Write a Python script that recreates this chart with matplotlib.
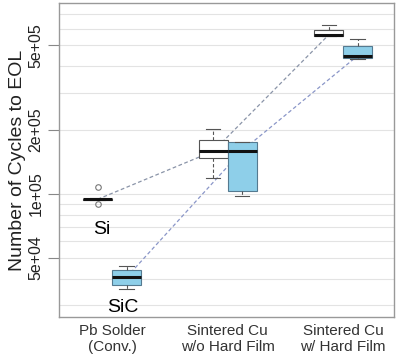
import matplotlib
matplotlib.use("Agg")
import matplotlib.pyplot as plt
from matplotlib.ticker import FixedLocator, NullFormatter, NullLocator

plt.rcParams['font.family'] = ['Liberation Sans', 'DejaVu Sans']

categories = ["Pb Solder\n(Conv.)", "Sintered Cu\nw/o Hard Film", "Sintered Cu\nw/ Hard Film"]
yticks = [5e4, 1e5, 2e5, 5e5]
ytick_labels = ["5e+04", "1e+05", "2e+05", "5e+05"]
grid_vals = [3e4, 4e4, 5e4, 6e4, 7e4, 8e4, 9e4, 1e5, 2e5, 3e5, 4e5, 5e5, 6e5, 7e5]

# box stats per category: (whislo, q1, med, q3, whishi)
si_stats = [
    (0.935e5, 0.938e5, 0.945e5, 0.952e5, 0.955e5),
    (1.185e5, 1.48e5, 1.59e5, 1.79e5, 2.02e5),
    (5.55e5, 5.55e5, 5.61e5, 5.91e5, 6.26e5),
]
si_fliers = [[1.08e5, 0.894e5], [], []]
sic_stats = [
    (3.56e4, 3.73e4, 4.06e4, 4.39e4, 4.57e4),
    (0.975e5, 1.03e5, 1.60e5, 1.75e5, 1.75e5),
    (4.32e5, 4.38e5, 4.47e5, 4.98e5, 5.34e5),
]
sic_fliers = [[], [], []]
series_labels = ["Si", "SiC"]

fig = plt.figure(figsize=(4.0, 3.55), dpi=100)
ax = fig.add_axes([59/400, 1 - 317/355, (394-59)/400, (317-3)/355])
ax.set_yscale('log')

offset = 0.125
width = 0.25
pos = [1, 2, 3]

def mk(stats, fliers):
    out = []
    for s, f in zip(stats, fliers):
        out.append(dict(whislo=s[0], q1=s[1], med=s[2], q3=s[3], whishi=s[4], fliers=f))
    return out

common = dict(widths=width, showfliers=True, patch_artist=True,
              whiskerprops=dict(color='#555555', linestyle=(0, (3, 2)), linewidth=0.8),
              capprops=dict(color='#555555', linewidth=0.8),
              medianprops=dict(color='#111111', linewidth=2.2),
              flierprops=dict(marker='o', markerfacecolor='none', markeredgecolor='#777777',
                              markersize=4, markeredgewidth=0.8))

ax.bxp(mk(si_stats, si_fliers), positions=[p - offset for p in pos],
       boxprops=dict(facecolor='white', edgecolor='#555555', linewidth=0.8), **common)
ax.bxp(mk(sic_stats, sic_fliers), positions=[p + offset for p in pos],
       boxprops=dict(facecolor='#8ecfe9', edgecolor='#557a90', linewidth=0.8), **common)

# connecting dashed lines through medians
ax.plot([p - offset for p in pos], [s[2] for s in si_stats], linestyle=(0, (3, 2)),
        color='#8a94a8', linewidth=0.9, zorder=1)
ax.plot([p + offset for p in pos], [s[2] for s in sic_stats], linestyle=(0, (3, 2)),
        color='#8a96c8', linewidth=0.9, zorder=1)

ax.text(1 - 0.09, 6.8e4, series_labels[0], fontsize=14, ha='center', va='center')
ax.text(1 + 0.09, 2.94e4, series_labels[1], fontsize=14, ha='center', va='center')

ax.set_xlim(0.54, 3.44)
ax.set_ylim(2.64e4, 7.92e5)

for g in grid_vals:
    ax.axhline(g, color='#e3e3e3', linewidth=0.8, zorder=0)

ax.yaxis.set_major_locator(FixedLocator(yticks))
ax.yaxis.set_minor_locator(NullLocator())
ax.yaxis.set_minor_formatter(NullFormatter())
ax.set_yticklabels(ytick_labels, rotation=90, va='center', fontsize=11.5, color='#222222')
ax.tick_params(axis='y', length=8, width=0.8, color='#888888', pad=3)

ax.set_xticks(pos)
ax.set_xticklabels(categories, fontsize=11, color='#333333', linespacing=1.2)
ax.tick_params(axis='x', length=0, pad=5)

for sp in ax.spines.values():
    sp.set_color('#999999')
    sp.set_linewidth(1.0)

ax.set_ylabel("Number of Cycles to EOL", fontsize=14, color='#222222', labelpad=2)

fig.savefig("out.png", dpi=100)
